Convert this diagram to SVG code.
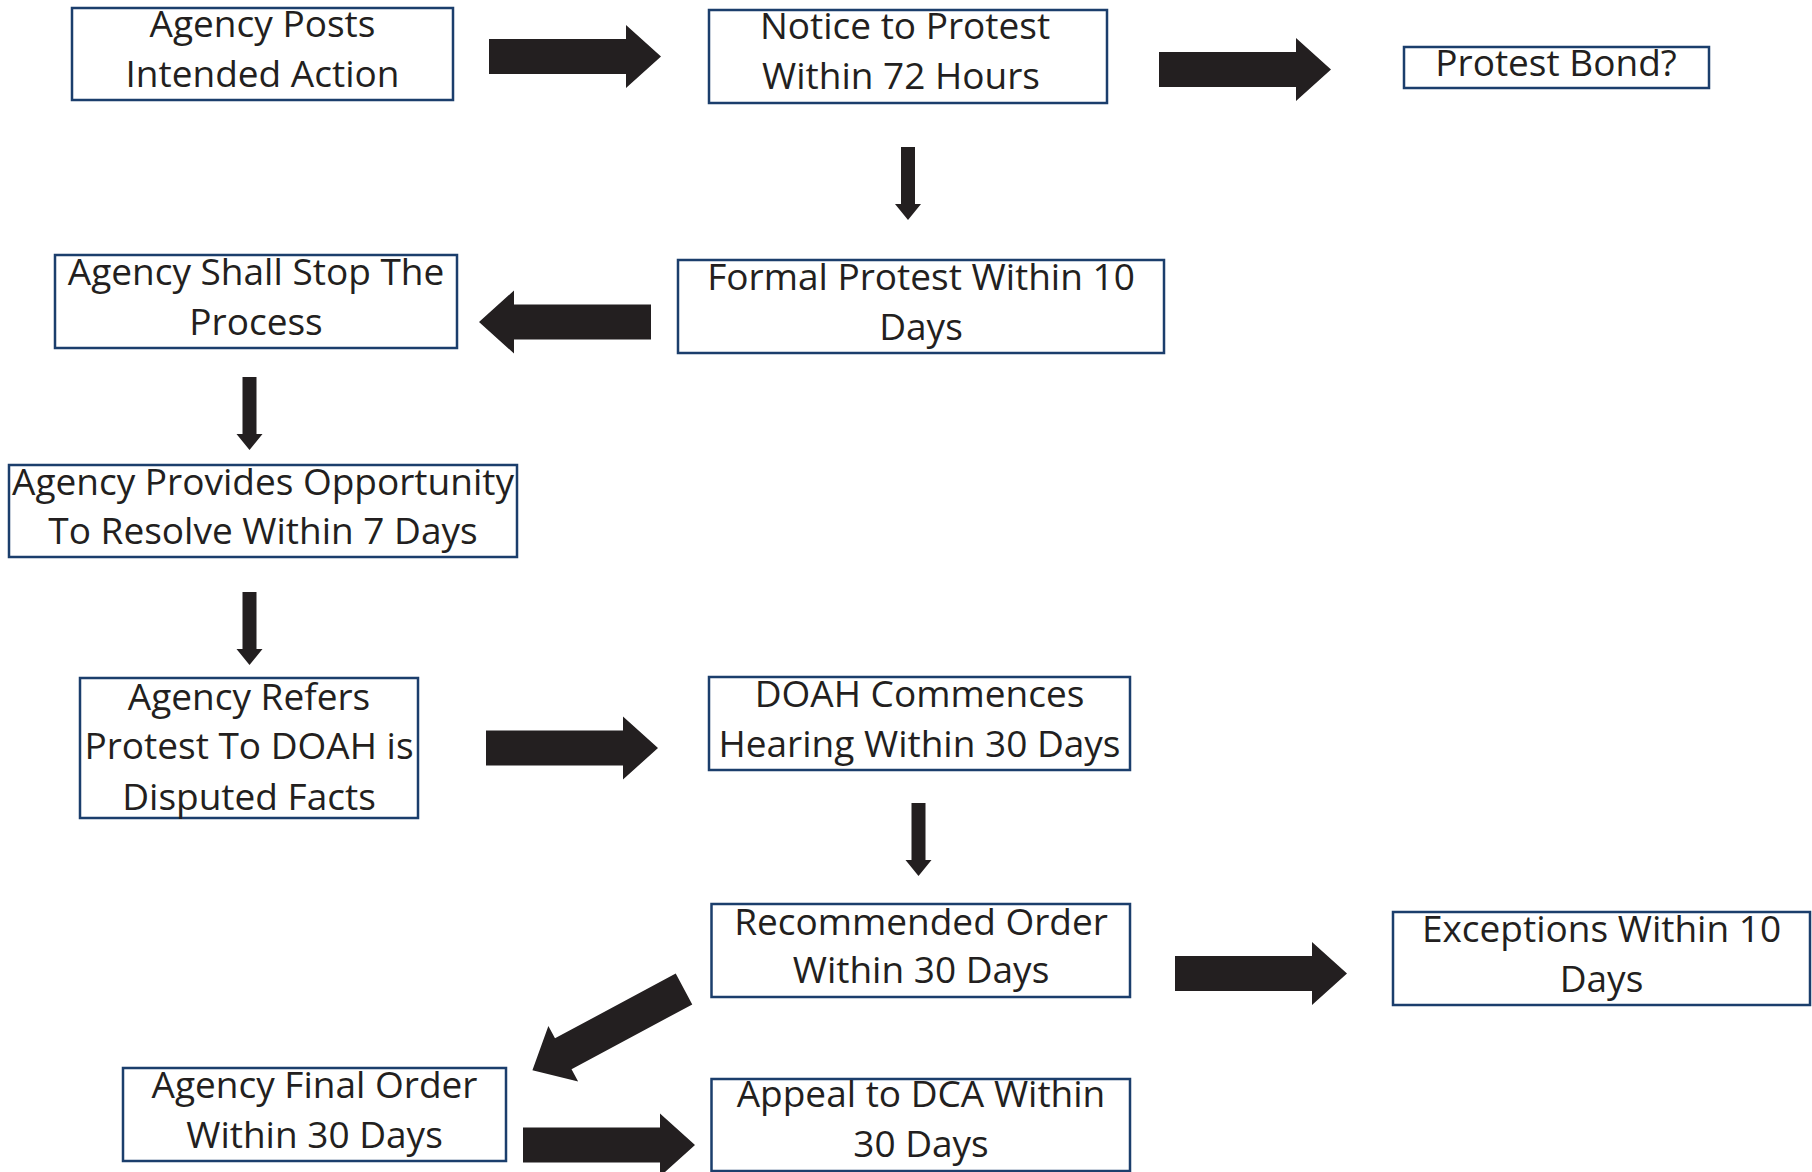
<svg xmlns="http://www.w3.org/2000/svg" xmlns:xlink="http://www.w3.org/1999/xlink" width="1812" height="1172" viewBox="0 0 1812 1172">
<style>
.box{fill:#ffffff;stroke:#1b3e6c;stroke-width:2.5}
.t{font-family:"Open Sans","Liberation Sans",sans-serif;font-size:37px;fill:#231f20;text-anchor:middle}
.arr{fill:#231f20}
</style>
<defs>
<path id="big" d="M0,-17.5 H137 V-31.5 L172,0 L137,31.5 V17.5 H0 Z"/>
<path id="small" d="M-7,0 H7 V57 H13 L0,73 L-13,57 H-7 Z"/>
</defs>
<rect width="1812" height="1172" fill="#ffffff"/>
<g id="connectors" class="arr">
<use xlink:href="#big" transform="translate(489,56.5)"/>
<use xlink:href="#big" transform="translate(1159,69.5)"/>
<use xlink:href="#small" transform="translate(908,147)"/>
<use xlink:href="#big" transform="translate(651,322) rotate(180)"/>
<use xlink:href="#small" transform="translate(249.5,377)"/>
<use xlink:href="#small" transform="translate(249.5,592)"/>
<use xlink:href="#big" transform="translate(486,748)"/>
<use xlink:href="#small" transform="translate(918.5,803)"/>
<use xlink:href="#big" transform="translate(1175,973.5)"/>
<use xlink:href="#big" transform="translate(684,989) rotate(151.8)"/>
<use xlink:href="#big" transform="translate(523,1145)"/>
</g>
<g id="n1"><rect class="box" x="72" y="8" width="381" height="92"/><text class="t" x="262.5" y="37">Agency Posts</text><text class="t" x="262.5" y="87">Intended Action</text></g>
<g id="n2"><rect class="box" x="709" y="10" width="398" height="93"/><text class="t" x="905" y="39">Notice to Protest</text><text class="t" x="901" y="89">Within 72 Hours</text></g>
<g id="n3"><rect class="box" x="1404" y="47" width="305" height="41"/><text class="t" x="1556" y="76">Protest Bond?</text></g>
<g id="n4"><rect class="box" x="678" y="260" width="486" height="93"/><text class="t" x="921" y="290">Formal Protest Within 10</text><text class="t" x="921" y="340">Days</text></g>
<g id="n5"><rect class="box" x="55" y="255" width="402" height="93"/><text class="t" x="256" y="285">Agency Shall Stop The</text><text class="t" x="256" y="335">Process</text></g>
<g id="n6"><rect class="box" x="9" y="465" width="508" height="92"/><text class="t" x="263" y="495">Agency Provides Opportunity</text><text class="t" x="263" y="544">To Resolve Within 7 Days</text></g>
<g id="n7"><rect class="box" x="80" y="678" width="338" height="140"/><text class="t" x="249" y="710">Agency Refers</text><text class="t" x="249" y="759">Protest To DOAH is</text><text class="t" x="249" y="810">Disputed Facts</text></g>
<g id="n8"><rect class="box" x="709" y="677" width="421" height="93"/><text class="t" x="919.5" y="707">DOAH Commences</text><text class="t" x="919.5" y="757">Hearing Within 30 Days</text></g>
<g id="n9"><rect class="box" x="711.5" y="904" width="418.5" height="93"/><text class="t" x="921" y="935">Recommended Order</text><text class="t" x="921" y="983">Within 30 Days</text></g>
<g id="n10"><rect class="box" x="1393" y="912" width="417" height="93"/><text class="t" x="1601.5" y="942">Exceptions Within 10</text><text class="t" x="1601.5" y="992">Days</text></g>
<g id="n11"><rect class="box" x="123" y="1068" width="383" height="93"/><text class="t" x="314.5" y="1098">Agency Final Order</text><text class="t" x="314.5" y="1148">Within 30 Days</text></g>
<g id="n12"><rect class="box" x="711.5" y="1079" width="418.5" height="92"/><text class="t" x="921" y="1107">Appeal to DCA Within</text><text class="t" x="921" y="1157">30 Days</text></g>
</svg>
